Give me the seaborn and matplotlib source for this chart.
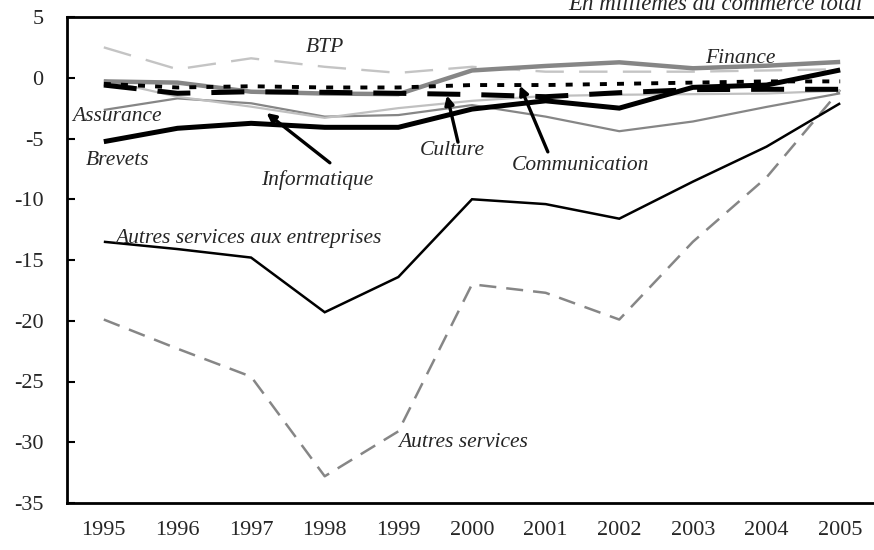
import matplotlib
matplotlib.use("Agg")
import matplotlib.pyplot as plt
import seaborn as sns
import pandas as pd

years = [1995, 1996, 1997, 1998, 1999, 2000, 2001, 2002, 2003, 2004, 2005]

btp = [2.5, 0.7, 1.6, 0.9, 0.4, 0.9, 0.5, 0.5, 0.5, 0.6, 0.7]
finance = [-0.3, -0.4, -1.15, -1.3, -1.35, 0.6, 0.97, 1.27, 0.78, 0.99, 1.3]
communication = [-0.5, -0.8, -0.7, -0.8, -0.8, -0.6, -0.6, -0.5, -0.4, -0.3, -0.3]
culture = [-0.6, -1.28, -1.15, -1.2, -1.28, -1.38, -1.56, -1.23, -0.98, -0.95, -0.95]
informatique = [-0.2, -1.56, -2.38, -3.3, -2.5, -1.9, -1.5, -1.4, -1.35, -1.3, -1.06]
assurance = [-2.65, -1.7, -2.1, -3.2, -3.07, -2.25, -3.2, -4.4, -3.6, -2.4, -1.28]
brevets = [-5.26, -4.16, -3.75, -4.08, -4.08, -2.58, -1.9, -2.5, -0.79, -0.6, 0.64]
autres_serv_ent = [-13.5, -14.1, -14.8, -19.3, -16.4, -10.0, -10.4, -11.6, -8.55, -5.67, -2.1]
autres_serv = [-19.9, -22.3, -24.6, -32.8, -29.1, -17.0, -17.7, -19.9, -13.5, -8.2, -1.0]

series = [
    ("Autres services", autres_serv, "#868686", 1.8, (6.8, 4)),
    ("Autres services aux entreprises", autres_serv_ent, "black", 1.8, None),
    ("Assurance", assurance, "#868686", 1.6, None),
    ("Informatique", informatique, "#c0c0c0", 1.6, None),
    ("BTP", btp, "#c4c4c4", 1.7, (12, 6.5)),
    ("Brevets", brevets, "black", 3.6, None),
    ("Finance", finance, "#868686", 3.2, None),
    ("Culture", culture, "black", 3.6, (6.6, 4.2)),
    ("Communication", communication, "black", 2.8, (1.8, 2.6)),
]

sns.set_style("white")
plt.rcParams['font.family'] = ['Liberation Serif', 'DejaVu Serif']

fig = plt.figure(figsize=(8.74, 5.5), dpi=100)
ax = fig.add_axes([67/874, 1 - 503/550, 810/874, (503 - 17)/550])

for name, vals, color, lw, dash in series:
    df = pd.DataFrame({"year": years, "value": vals})
    sns.lineplot(data=df, x="year", y="value", ax=ax, color=color,
                 linewidth=lw, legend=False)
    l = ax.lines[-1]
    if dash is not None:
        l.set_dashes(dash)
    l.set_solid_capstyle("butt")
    l.set_dash_capstyle("butt")
    l.set_solid_joinstyle("miter")

ax.set_xlim(1994.5, 2005.5)
ax.set_ylim(-35, 5)
ax.set_yticks(range(-35, 6, 5))
ax.set_yticklabels([str(v) for v in range(-35, 6, 5)], fontsize=16)
ax.set_xticks(years)
ax.set_xticklabels([str(y) for y in years], fontsize=16)
ax.set_xticks([y + 0.5 for y in years[:-1]], minor=True)
ax.tick_params(axis='x', which='major', length=0, pad=13)
ax.tick_params(axis='x', which='minor', direction='in', length=6, width=1.5, color='black')
ax.tick_params(axis='y', direction='in', length=6, width=1.5, color='black', pad=17, left=True)
ax.set_xlabel("")
ax.set_ylabel("")
for s in ax.spines.values():
    s.set_color("black")
    s.set_linewidth(2)

lab = dict(fontsize=15.5, style='italic', ha='center', va='center')
ax.text(1998.0, 2.45, "BTP", **lab)
ax.text(2003.64, 1.6, "Finance", **lab)
ax.text(1995.18, -3.15, "Assurance", **lab)
ax.text(1995.19, -6.77, "Brevets", **lab)
ax.text(1997.9, -8.4, "Informatique", **lab)
ax.text(1999.73, -5.95, "Culture", **lab)
ax.text(2001.47, -7.2, "Communication", **lab)
ax.text(1995.15, -13.27, "Autres services aux entreprises", fontsize=15.5,
        style='italic', ha='left', va='center')
ax.text(1999.88, -29.98, "Autres services", **lab)

arrow = dict(arrowstyle='-|>', color='black', lw=2.4, mutation_scale=13,
             shrinkA=0, shrinkB=0)
ax.annotate("", xy=(1997.21, -2.9), xytext=(1998.07, -7.0), arrowprops=arrow)
ax.annotate("", xy=(1999.66, -1.45), xytext=(1999.81, -5.3), arrowprops=arrow)
ax.annotate("", xy=(2000.65, -0.65), xytext=(2001.03, -6.1), arrowprops=arrow)

fig.text(568/874, 1 - 10/550, "En millièmes du commerce total", fontsize=16.5,
         style='italic', ha='left', va='baseline')

fig.savefig("out.png", dpi=100)
